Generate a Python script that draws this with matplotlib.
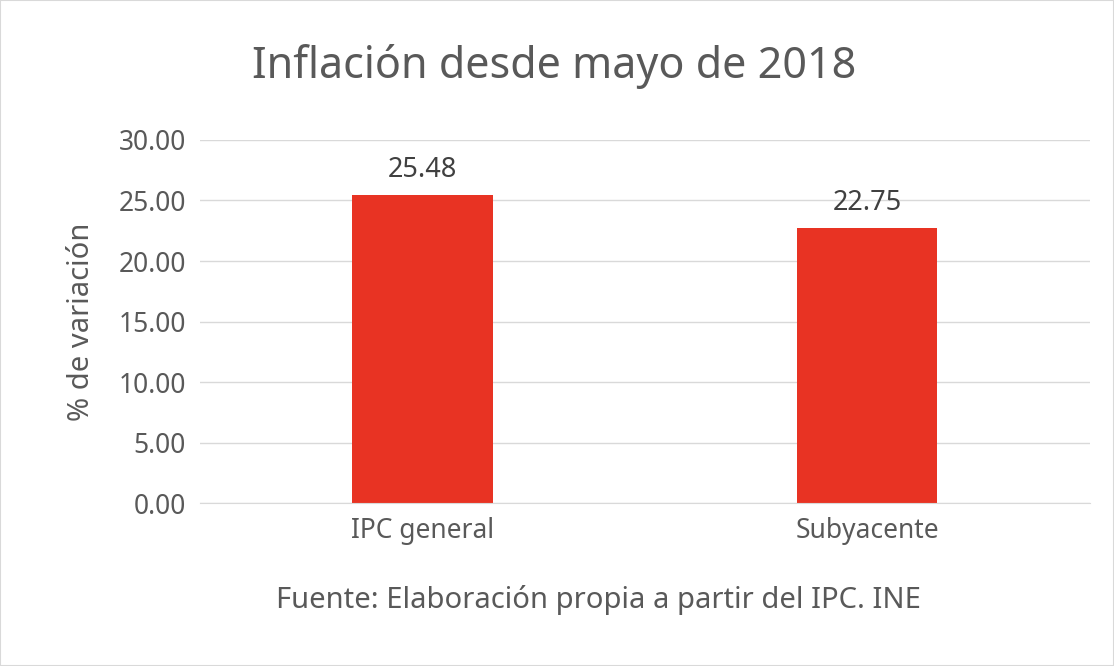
import matplotlib
matplotlib.use("Agg")
import matplotlib.pyplot as plt
from matplotlib.patches import Rectangle

categories = ["IPC general", "Subyacente"]
values = [25.48, 22.75]
yticks = [0, 5, 10, 15, 20, 25, 30]

GREY = "#595959"
plt.rcParams["font.family"] = ["Noto Sans", "DejaVu Sans"]

fig = plt.figure(figsize=(11.14, 6.66), dpi=100)
ax = fig.add_axes([0.1795, 0.2447, 0.7988, 0.5451])
x = range(len(categories))
ax.bar(x, values, width=0.315, color="#e83323", zorder=2)
for i, v in zip(x, values):
    ax.text(i, v + 0.9, f"{v:.2f}", ha="center", va="bottom", fontsize=19.5, color="#404040")
ax.set_xlim(-0.5, 1.5)
ax.set_ylim(0, 30)
ax.set_yticks(yticks, [f"{t:.2f}" for t in yticks])
ax.set_xticks(list(x), categories)
ax.tick_params(axis="both", length=0, labelsize=19, colors=GREY, pad=10)
ax.grid(axis="y", color="#d9d9d9", lw=1, zorder=0)
for s in ["top", "right", "left"]:
    ax.spines[s].set_visible(False)
ax.spines["bottom"].set_color("#d9d9d9")
ax.set_ylabel("% de variación", fontsize=21, color=GREY, labelpad=16)
fig.text(0.497, 0.9, "Inflación desde mayo de 2018", ha="center", va="center", fontsize=31, color=GREY)
fig.text(0.537, 0.099, "Fuente: Elaboración propia a partir del IPC. INE", ha="center", va="center",
         fontsize=21, color=GREY)
fig.patches.append(Rectangle((0, 0), 1, 1, transform=fig.transFigure, fill=False,
                             edgecolor="#d9d9d9", lw=1.5))
fig.savefig("out.png", dpi=100)
